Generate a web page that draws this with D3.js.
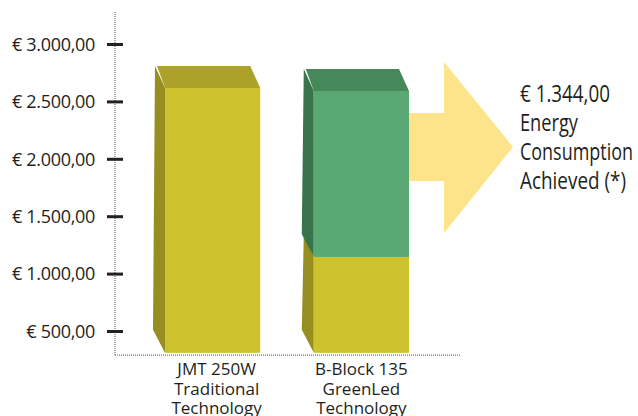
<!DOCTYPE html>
<html>
<head>
<meta charset="utf-8">
<script src="https://cdn.jsdelivr.net/npm/d3@7"></script>
<style>
html,body{margin:0;padding:0;background:#fff;}
svg{display:block;}
</style>
</head>
<body>
<svg id="chart" width="638" height="416"></svg>
<script>
// ---- data ----
const categories = ["JMT 250W", "B-Block 135"];
const categoryLines = [
  ["JMT 250W", "Traditional", "Technology"],
  ["B-Block 135", "GreenLed", "Technology"]
];
const baseValues = [2617, 1145];      // yellow (energy consumed)
const savingValues = [0, 1446];       // green (saving achieved)
const tickValues = [500, 1000, 1500, 2000, 2500, 3000];
const calloutLines = ["€ 1.344,00", "Energy", "Consumption", "Achieved (*)"];

// ---- setup ----
const svg = d3.select("#chart");
const y = d3.scaleLinear().domain([500, 3000]).range([331, 44]);
const x = d3.scaleBand().domain(categories).range([165, 409]).paddingInner(0.36);
const barFloor = 310;
const axisFloor = 290;
const dx = -10, dy = -22;

const locale = d3.formatLocale({decimal: ",", thousands: ".", grouping: [3], currency: ["€ ", ""]});
const fmt = v => "€ " + locale.format(",.2f")(v);

const textColor = "#231f20";
const fontFam = "'Open Sans','Noto Sans',sans-serif";

// dotted axis lines
svg.append("line").attr("x1", 115).attr("x2", 115).attr("y1", 12).attr("y2", y(axisFloor))
  .attr("stroke", "#555").attr("stroke-width", 1).attr("stroke-dasharray", "1,1");
svg.append("line").attr("x1", 115).attr("x2", 461).attr("y1", y(axisFloor)).attr("y2", y(axisFloor))
  .attr("stroke", "#555").attr("stroke-width", 1).attr("stroke-dasharray", "1,1");

// y axis with d3 axis
const axis = d3.axisLeft(y).tickValues(tickValues).tickFormat(fmt).tickSize(0).tickPadding(0);
const gAxis = svg.append("g").attr("transform", "translate(115,0)").call(axis);
gAxis.select(".domain").remove();
gAxis.selectAll(".tick text").remove();
gAxis.selectAll(".tick").append("line")
  .attr("x1", -8).attr("x2", 8).attr("stroke", "#1f2322").attr("stroke-width", 3);
gAxis.selectAll(".tick").append("text")
  .attr("x", -20).attr("dy", "0.35em").attr("text-anchor", "end")
  .attr("fill", textColor).style("font-family", fontFam)
  .style("font-size", "18px").style("letter-spacing", "-0.3px")
  .text(d => fmt(d));

// 3D bar helper
function box(g, x0, x1, vTop, vBot, c, showTop) {
  const yt = y(vTop), yb = y(vBot);
  g.append("path").attr("d", `M${x0+dx},${yt+dy} L${x0},${yt} L${x0},${yb} L${x0+dx-2},${yb+dy-1} Z`)
    .attr("fill", c.side);
  if (showTop) {
    g.append("path").attr("d", `M${x0+dx+2},${yt+dy} L${x1+dx},${yt+dy} L${x1},${yt} L${x0},${yt} Z`)
      .attr("fill", c.top);
  }
  g.append("rect").attr("x", x0).attr("y", yt).attr("width", x1 - x0).attr("height", yb - yt)
    .attr("fill", c.front);
}
const yellow = {front: "#cdc12d", side: "#968e1f", top: "#aca22a"};
const green = {front: "#5aa873", side: "#37744b", top: "#45895b"};

// arrow (behind bar 2)
const b2x1 = x(categories[1]) + x.bandwidth();
svg.append("path")
  .attr("d", `M${b2x1-4},113 L444,113 L444,62 L513,147 L444,233 L444,181 L${b2x1-4},181 Z`)
  .attr("fill", "#fde48a");

categories.forEach((cat, i) => {
  const g = svg.append("g");
  const x0 = x(cat), x1 = x0 + x.bandwidth();
  const base = baseValues[i], sav = savingValues[i];
  box(g, x0, x1, base, barFloor, yellow, sav === 0);
  if (sav > 0) box(g, x0, x1, base + sav, base, green, true);
  const t = svg.append("text").attr("text-anchor", "middle")
    .attr("fill", textColor).style("font-family", fontFam)
    .style("font-size", "17px");
  categoryLines[i].forEach((ln, j) => {
    t.append("tspan").attr("x", x0 + x.bandwidth() / 2 + (i === 0 ? 4 : 0)).attr("y", 375 + j * 19.5).text(ln);
  });
});

// callout text (condensed look via textLength)
const widths = [90, 58, 113, 106];
calloutLines.forEach((ln, j) => {
  svg.append("text").attr("fill", textColor)
    .style("font-family", fontFam).style("font-size", "23px")
    .attr("x", 520).attr("y", 102 + j * 29)
    .attr("textLength", widths[j]).attr("lengthAdjust", "spacingAndGlyphs")
    .text(ln);
});
</script>
</body>
</html>
